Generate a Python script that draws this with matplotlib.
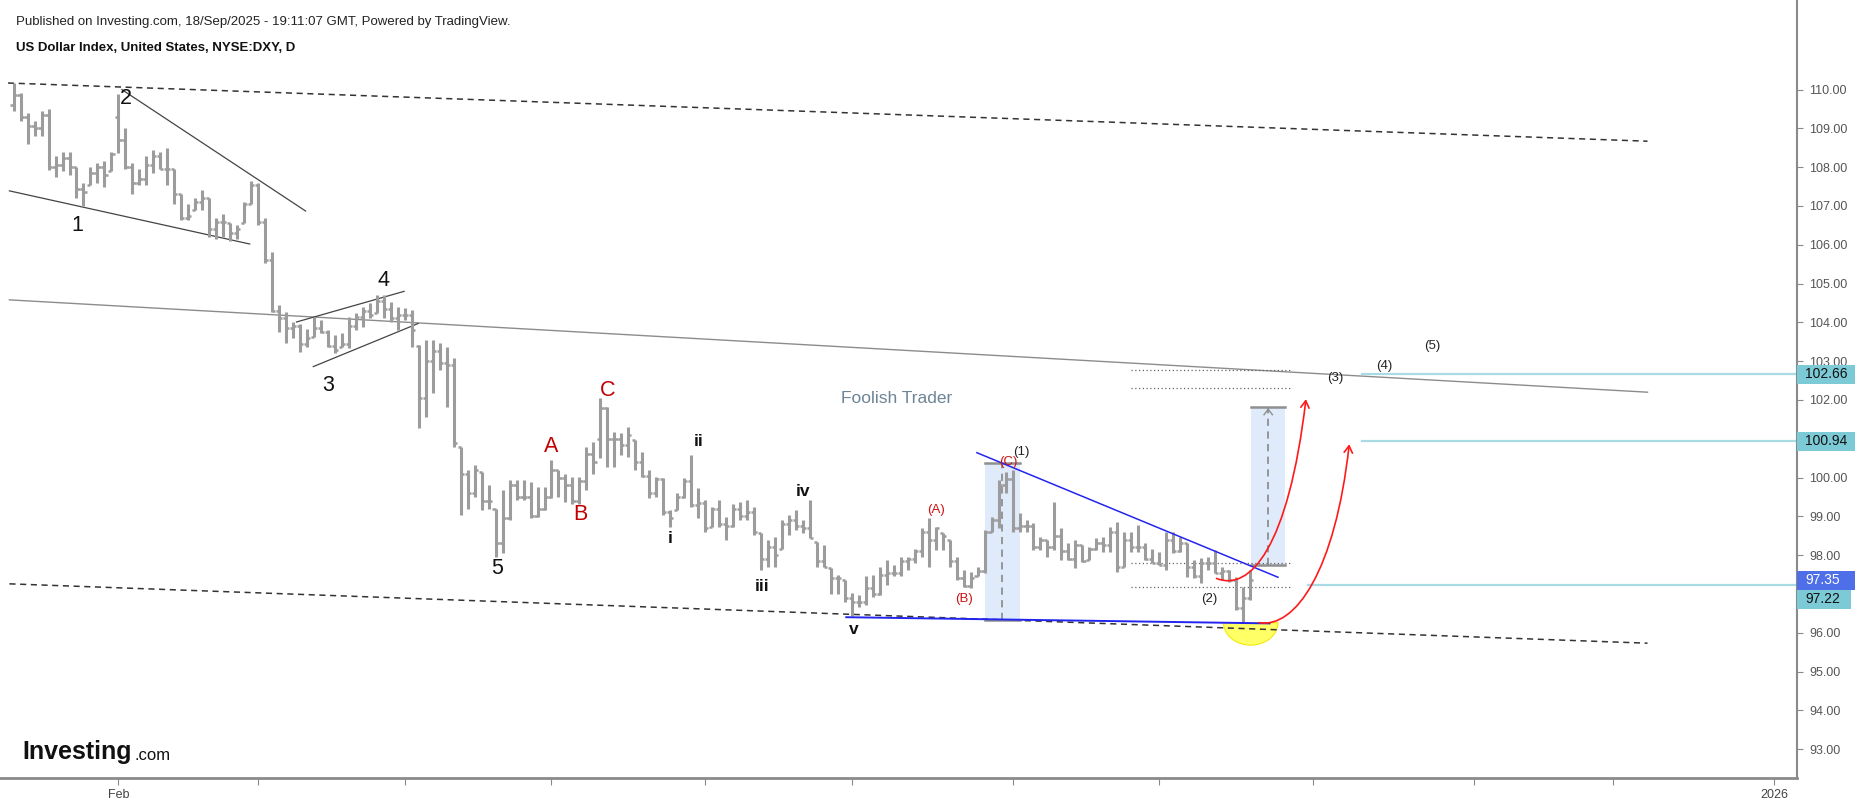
import numpy as np
import pandas as pd
import matplotlib
matplotlib.use('Agg')
import matplotlib.pyplot as plt
from matplotlib.patches import Rectangle, Polygon, FancyArrowPatch
from matplotlib.path import Path
from matplotlib.transforms import blended_transform_factory

plt.rcParams['font.family'] = ['Liberation Sans', 'DejaVu Sans']

# --- data: DXY daily bars, 13 Jan 2025 .. 18 Sep 2025 ---
opens = [109.6, 109.85, 109.3, 109.05, 109.0, 109.35, 108.0, 108.05, 108.25, 108.0,
         107.45, 107.55, 107.85, 108.0, 107.9, 109.3, 108.7, 108.0, 107.6, 107.7,
         108.05, 108.3, 107.95, 107.95, 107.3, 106.7, 106.9, 107.1, 107.2, 106.4,
         106.6, 106.55, 106.3, 106.55, 107.05, 107.55, 106.6, 105.6, 104.3, 104.1,
         103.85, 103.9, 103.45, 103.63, 103.85, 103.75, 103.4, 103.37, 103.45, 103.9,
         104.15, 104.3, 104.23, 104.55, 104.35, 104.1, 104.2, 104.2, 103.4, 102.05,
         103.0, 103.25, 102.95, 102.9, 100.8, 100.1, 99.6, 100.15, 99.4, 99.2,
         98.3, 98.95, 99.8, 99.5, 99.5, 99.0, 99.2, 99.5, 100.19, 100.0,
         99.8, 99.4, 99.9, 100.6, 101.0, 101.8, 101.0, 101.0, 100.85, 100.97,
         100.4, 100.05, 99.6, 99.95, 99.1, 99.16, 99.5, 99.9, 99.3, 99.35,
         98.73, 99.2, 98.8, 98.75, 99.2, 99.0, 99.1, 98.56, 97.9, 98.2,
         98.17, 98.8, 98.9, 98.75, 98.7, 98.35, 97.85, 97.66, 97.4, 97.36,
         96.9, 96.8, 96.8, 97.15, 97.0, 97.5, 97.55, 97.55, 97.85, 97.9,
         98.1, 98.6, 98.4, 98.56, 98.39, 97.85, 97.4, 97.2, 97.45, 97.6,
         98.6, 98.9, 99.8, 99.95, 98.7, 98.75, 98.75, 98.2, 98.39, 98.2,
         98.5, 98.1, 97.9, 98.25, 97.87, 98.15, 98.3, 98.25, 98.6, 97.7,
         98.4, 98.2, 98.2, 97.9, 97.8, 97.75, 98.4, 98.1, 98.3, 97.7,
         97.45, 97.8, 97.8, 97.55, 97.6, 97.35, 96.65, 96.9]
highs = [110.18, 109.9, 109.4, 109.2, 109.45, 109.5, 108.3, 108.4, 108.4, 108.0,
         107.6, 108.0, 108.1, 108.15, 108.4, 109.88, 109.0, 108.1, 107.95, 108.3,
         108.45, 108.4, 108.5, 107.95, 107.3, 107.05, 107.2, 107.4, 107.2, 106.7,
         106.8, 106.55, 106.5, 107.1, 107.65, 107.58, 106.68, 105.82, 104.44, 104.27,
         104.02, 103.97, 103.84, 104.14, 104.06, 103.8, 103.67, 103.72, 104.14, 104.23,
         104.4, 104.49, 104.7, 104.7, 104.53, 104.4, 104.36, 104.32, 103.42, 103.54,
         103.54, 103.46, 103.37, 103.07, 100.8, 100.2, 100.32, 100.15, 99.8, 99.2,
         99.68, 99.94, 99.94, 99.94, 99.89, 99.76, 99.76, 100.45, 100.19, 100.1,
         100.02, 100.02, 100.8, 100.92, 102.04, 101.83, 101.18, 101.14, 101.31, 100.97,
         100.67, 100.19, 100.02, 99.98, 99.16, 99.59, 99.98, 100.58, 99.72, 99.42,
         99.25, 99.42, 98.99, 99.33, 99.38, 99.42, 99.25, 98.56, 98.39, 98.47,
         98.9, 99.03, 99.16, 98.9, 99.42, 98.35, 98.26, 97.66, 97.49, 97.36,
         97.02, 96.97, 97.45, 97.49, 97.7, 97.87, 97.75, 97.96, 97.96, 98.17,
         98.69, 98.95, 98.73, 98.56, 98.39, 97.96, 97.62, 97.57, 97.7, 98.65,
         98.99, 99.94, 100.15, 100.19, 99.08, 98.9, 98.82, 98.47, 98.39, 99.38,
         98.69, 98.3, 98.39, 98.26, 98.22, 98.43, 98.47, 98.73, 98.86, 98.6,
         98.6, 98.78, 98.3, 98.17, 98.09, 98.6, 98.6, 98.47, 98.3, 97.87,
         97.92, 97.96, 98.13, 97.7, 97.62, 97.44, 97.19, 97.62]
lows = [109.45, 109.2, 108.6, 108.8, 108.8, 107.93, 107.75, 107.9, 107.8, 107.2,
        107.0, 107.55, 107.6, 107.5, 107.9, 108.36, 107.95, 107.3, 107.55, 107.55,
        107.85, 107.95, 107.55, 107.05, 106.65, 106.65, 106.9, 106.9, 106.2, 106.15,
        106.2, 106.1, 106.15, 106.55, 107.05, 106.51, 105.52, 104.27, 103.76, 103.46,
        103.59, 103.24, 103.37, 103.63, 103.72, 103.37, 103.2, 103.37, 103.33, 103.8,
        103.89, 104.1, 104.23, 104.1, 104.02, 103.8, 104.06, 103.37, 101.27, 101.57,
        102.17, 102.77, 101.83, 100.8, 99.03, 99.2, 99.5, 99.16, 99.2, 97.96,
        98.05, 98.9, 99.42, 99.42, 98.95, 98.99, 99.16, 99.46, 99.5, 99.38,
        99.33, 99.33, 99.68, 100.1, 100.5, 100.28, 100.28, 100.58, 100.54, 100.19,
        100.02, 99.46, 99.5, 99.03, 98.73, 99.16, 99.46, 99.25, 98.95, 98.6,
        98.73, 98.73, 98.39, 98.73, 98.9, 98.9, 98.52, 97.62, 97.7, 97.7,
        98.17, 98.52, 98.65, 98.56, 98.43, 97.7, 97.7, 97.0, 97.0, 96.8,
        96.42, 96.67, 96.72, 96.93, 96.97, 97.23, 97.45, 97.45, 97.62, 97.79,
        97.96, 97.7, 98.13, 98.13, 97.7, 97.36, 97.19, 97.14, 97.45, 97.53,
        98.6, 98.69, 99.6, 98.6, 98.6, 98.6, 98.13, 98.13, 97.96, 98.13,
        97.87, 97.87, 97.66, 97.83, 97.87, 98.13, 98.09, 98.09, 97.57, 97.7,
        98.09, 98.09, 97.87, 97.79, 97.74, 97.62, 98.05, 98.09, 97.44, 97.4,
        97.27, 97.62, 97.53, 97.36, 97.32, 96.59, 96.24, 96.84]
closes = [109.85, 109.3, 109.05, 109.0, 109.35, 108.0, 108.05, 108.25, 108.0, 107.45,
          107.35, 107.85, 108.0, 107.8, 108.35, 108.7, 108.0, 107.6, 107.7, 108.05,
          108.3, 107.95, 107.95, 107.3, 106.7, 106.75, 107.1, 107.2, 106.4, 106.6,
          106.6, 106.3, 106.4, 107.05, 107.55, 106.6, 105.6, 104.3, 104.1, 103.85,
          103.9, 103.45, 103.6, 103.85, 103.75, 103.4, 103.3, 103.45, 103.9, 104.15,
          104.3, 104.2, 104.55, 104.35, 104.1, 104.2, 104.2, 103.8, 102.05, 103.0,
          103.25, 102.95, 102.9, 100.9, 100.1, 99.6, 100.2, 99.4, 99.4, 98.3,
          98.95, 99.8, 99.5, 99.5, 99.0, 99.2, 99.5, 100.2, 100.0, 99.8,
          99.4, 99.9, 100.6, 100.4, 101.8, 101.0, 101.0, 100.85, 101.1, 100.4,
          100.05, 99.6, 99.95, 99.1, 98.95, 99.5, 99.9, 99.3, 99.35, 98.7,
          99.2, 98.8, 98.75, 99.2, 99.0, 99.1, 98.6, 97.9, 98.2, 98.0,
          98.8, 98.9, 98.75, 98.7, 98.45, 97.85, 97.7, 97.4, 97.4, 96.9,
          96.8, 96.8, 97.15, 97.0, 97.5, 97.55, 97.55, 97.85, 97.9, 98.1,
          98.6, 98.4, 98.7, 98.5, 97.85, 97.4, 97.2, 97.4, 97.6, 98.6,
          98.9, 99.8, 99.95, 98.7, 98.75, 98.75, 98.2, 98.4, 98.2, 98.5,
          98.1, 97.9, 98.25, 97.85, 98.15, 98.3, 98.25, 98.6, 97.7, 98.4,
          98.2, 98.2, 97.9, 97.8, 97.75, 98.4, 98.1, 98.3, 97.7, 97.45,
          97.8, 97.8, 97.55, 97.6, 97.35, 96.65, 96.9, 97.35]

price_ticks = [93, 94, 95, 96, 97, 98, 99, 100, 101, 102, 103, 104, 105, 106, 107, 108, 109, 110]
month_starts = ['2025-02-01', '2025-03-01', '2025-04-01', '2025-05-01', '2025-06-01', '2025-07-01',
                '2025-08-01', '2025-09-01', '2025-10-01', '2025-11-01', '2025-12-01', '2026-01-01']
month_labels = ['Feb', '', '', '', '', '', '', '', '', '', '', '2026']

target_levels = [102.66, 100.94]
support_level = 97.22
last_price = 97.35
tag_values = [102.66, 100.94, 97.35, 97.22]

# trading calendar (no bar on Good Friday)
days = pd.bdate_range('2025-01-13', '2026-01-09')
days = days[days != pd.Timestamp('2025-04-18')]
month_pos = [int(np.searchsorted(days, pd.Timestamp(m))) for m in month_starts]

fig = plt.figure(figsize=(18.57, 8.06), dpi=100)
ax = fig.add_axes([0, 28 / 806, 1797 / 1857, 778 / 806])
ax.set_xlim(-1.95, 255.3)
ax.set_ylim(92.255, 112.31)

# --- OHLC bars ---
bar_c = '#9c9c9c'
xs = np.arange(len(closes))
ax.vlines(xs, lows, highs, color=bar_c, lw=2.2, zorder=3)
ax.hlines(opens, xs - 0.45, xs, color=bar_c, lw=1.8, zorder=3)
ax.hlines(closes, xs, xs + 0.45, color=bar_c, lw=1.8, zorder=3)

# --- trend / channel lines ---
ax.plot([-0.8, 233.9], [110.17, 108.67], ls=(0, (4, 3)), color='#333333', lw=1.1, zorder=2)
ax.plot([-0.6, 233.9], [97.26, 95.73], ls=(0, (4, 3)), color='#333333', lw=1.1, zorder=2)
ax.plot([-0.6, 233.9], [104.58, 102.2], color='#8c8c8c', lw=1.0, zorder=2)
ax.plot([15.5, 41.8], [110.0, 106.87], color='#444444', lw=0.9, zorder=2)
ax.plot([-0.6, 33.8], [107.39, 106.02], color='#444444', lw=0.9, zorder=2)
ax.plot([40.5, 55.9], [104.01, 104.8], color='#444444', lw=0.9, zorder=2)
ax.plot([42.9, 57.9], [102.86, 103.97], color='#444444', lw=0.9, zorder=2)
ax.plot([137.9, 181.0], [100.64, 97.43], color='#2424f0', lw=1.1, zorder=4)
ax.plot([119.2, 179.8], [96.40, 96.24], color='#2424f0', lw=1.4, zorder=4)

# --- measured-move boxes ---
for x0, x1, y0, y1, xm in [(139.0, 144.1, 96.33, 100.37, 141.5), (177.1, 182.0, 97.74, 101.81, 179.6)]:
    ax.add_patch(Rectangle((x0, y0), x1 - x0, y1 - y0, facecolor='#dfeafb', edgecolor='none', zorder=1))
    ax.plot([x0, x1], [y0, y0], color='#8f8f8f', lw=1.8, zorder=2)
    ax.plot([x0, x1], [y1, y1], color='#8f8f8f', lw=1.8, zorder=2)
    ax.plot([xm, xm], [y0, y1], color='#8f8f8f', lw=1.3, ls=(0, (4, 3)), zorder=2)
ax.plot([179.0, 179.6, 180.2], [101.62, 101.76, 101.62], color='#8f8f8f', lw=1.0, zorder=2)

# dotted fib levels
for lv in [102.76, 102.30, 97.81, 97.17]:
    ax.plot([160.0, 183.0], [lv, lv], color='#666666', lw=0.9, ls=(0, (1, 2)), zorder=2)

# target / support levels
for lv in target_levels:
    ax.plot([193.0, 255.3], [lv, lv], color='#a8dbe4', lw=1.6, zorder=2)
ax.plot([185.3, 255.3], [support_level, support_level], color='#a8dbe4', lw=1.6, zorder=2)

# yellow bowl
t = np.linspace(np.pi, 2 * np.pi, 60)
bowl = np.column_stack([177.1 + 3.9 * np.cos(t), 96.26 + 0.58 * np.sin(t)])
ax.add_patch(Polygon(bowl, closed=True, facecolor='#ffff55', edgecolor='#f2e600', lw=0.8, alpha=0.9, zorder=1))

# projected path arrows
for verts in [[(172.2, 97.40), (177.0, 97.05), (182.5, 98.2), (185.0, 102.02)],
              [(178.3, 96.26), (183.5, 96.1), (189.2, 97.6), (191.2, 100.86)]]:
    arr = FancyArrowPatch(path=Path(verts, [Path.MOVETO, Path.CURVE4, Path.CURVE4, Path.CURVE4]),
                          arrowstyle='->,head_length=5,head_width=3', color='#ff1a1a', lw=1.2, zorder=5)
    ax.add_patch(arr)

# --- wave labels ---
big = dict(fontsize=15.5, ha='center', va='center', zorder=6)
for s, x, y in [('1', 9.1, 106.5), ('2', 16.0, 109.77), ('3', 45.0, 102.38), ('4', 52.9, 105.09), ('5', 69.2, 97.66)]:
    ax.text(x, y, s, color='#111111', **big)
for s, x, y in [('A', 77.0, 100.79), ('B', 81.1, 99.06), ('C', 85.0, 102.24)]:
    ax.text(x, y, s, color='#c00000', **big)
for s, x, y in [('i', 94.0, 98.43), ('ii', 98.1, 100.92), ('iii', 107.1, 97.19), ('iv', 113.0, 99.63), ('v', 120.2, 96.09)]:
    ax.text(x, y, s, color='#111111', fontsize=12.5, fontweight='bold', ha='center', va='center', zorder=6)
for s, x, y in [('(A)', 132.1, 99.16), ('(B)', 136.0, 96.86), ('(C)', 142.4, 100.41)]:
    ax.text(x, y, s, color='#cc1111', fontsize=9.5, ha='center', va='center', zorder=6)
for s, x, y in [('(1)', 144.2, 100.67), ('(2)', 171.2, 96.86), ('(3)', 189.2, 102.57),
                ('(4)', 196.2, 102.88), ('(5)', 203.1, 103.40)]:
    ax.text(x, y, s, color='#222222', fontsize=9.5, ha='center', va='center', zorder=6)
ax.text(126.4, 102.04, 'Foolish Trader', color='#6d8595', fontsize=12.5, ha='center', va='center', zorder=6)

# --- axes styling ---
for side in ['top', 'left']:
    ax.spines[side].set_visible(False)
ax.spines['right'].set_color('#8a8a8a')
ax.spines['bottom'].set_color('#8a8a8a')
ax.spines['right'].set_linewidth(1.5)
ax.spines['bottom'].set_linewidth(2.0)
ax.yaxis.tick_right()
ax.set_yticks(price_ticks)
# 97.00 and 101.00 sit under the price tags, as in the original
ax.set_yticklabels(['' if v in (97, 101) else '%.2f' % v for v in price_ticks])
ax.tick_params(axis='y', colors='#8a8a8a', labelcolor='#555555', labelsize=9, length=4, pad=5)
ax.set_xticks(month_pos)
ax.set_xticklabels(month_labels)
ax.tick_params(axis='x', colors='#8a8a8a', labelcolor='#444444', labelsize=9, length=5, pad=3)
ax.patch.set_alpha(0)

# price tags on the right axis (97.22 is stacked under the last price tag)
tag_tr = blended_transform_factory(fig.transFigure, ax.transData)
box_h = 0.49
for v in tag_values:
    ypos = last_price - box_h if v == support_level else v
    fc = '#4f6fe8' if v == last_price else '#7ccad6'
    tc = 'white' if v == last_price else '#111111'
    w = 0.0315 if v != support_level else 0.029
    ax.add_patch(Rectangle((1797 / 1857, ypos - box_h / 2), w, box_h, transform=tag_tr, facecolor=fc,
                           edgecolor='none', clip_on=False, zorder=10))
    ax.text(1805 / 1857, ypos, '%.2f' % v, transform=tag_tr, color=tc, fontsize=10, ha='left',
            va='center', clip_on=False, zorder=11)

# header and logo
fig.text(16 / 1857, 1 - 21.7 / 806, 'Published on Investing.com, 18/Sep/2025 - 19:11:07 GMT, Powered by TradingView.',
         fontsize=9.5, color='#222222', ha='left', va='center')
fig.text(16 / 1857, 1 - 48 / 806, 'US Dollar Index, United States, NYSE:DXY, D',
         fontsize=9.5, fontweight='bold', color='#111111', ha='left', va='center')
fig.text(22 / 1857, 1 - 752 / 806, 'Investing', fontsize=18, fontweight='bold', color='#111111',
         ha='left', va='center')
fig.text(135 / 1857, 1 - 755 / 806, '.com', fontsize=12, color='#111111', ha='left', va='center')

fig.savefig('out.png', dpi=100)
